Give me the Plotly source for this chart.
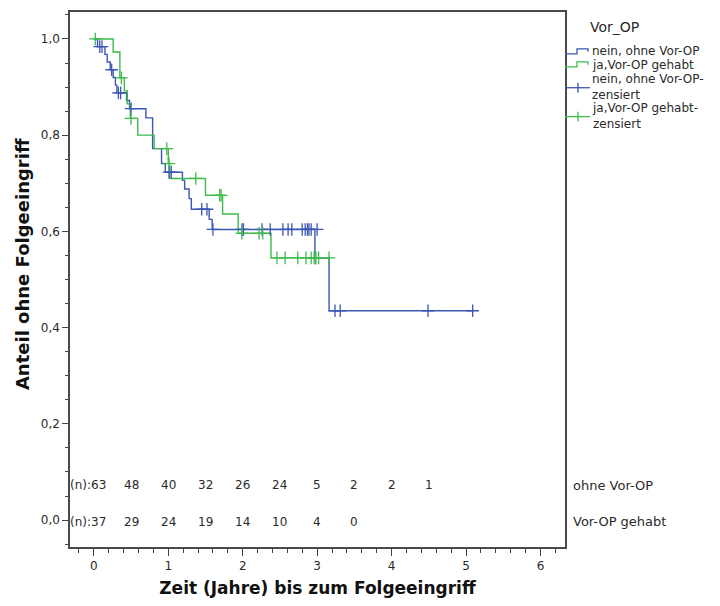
import plotly.graph_objects as go

# ---- data ----
# group 1: "nein, ohne Vor-OP" (blue)
blue_event_t = [0.05, 0.15, 0.18, 0.22, 0.26, 0.29, 0.31, 0.44, 0.48, 0.70, 0.79, 0.91, 0.96,
                1.19, 1.22, 1.28, 1.31, 1.55, 1.59, 2.97, 3.16]
blue_event_s = [0.984, 0.968, 0.952, 0.936, 0.920, 0.904, 0.888, 0.872, 0.855, 0.836, 0.772, 0.741, 0.723,
                0.706, 0.688, 0.668, 0.646, 0.625, 0.604, 0.545, 0.435]
blue_end_t = 5.09
blue_cens_t = [0.08, 0.11, 0.24, 0.33, 0.36, 0.50, 1.01, 1.04, 1.45, 1.52, 1.60, 1.99, 2.01,
               2.26, 2.37, 2.54, 2.61, 2.66, 2.80, 2.84, 2.87, 2.89, 2.92, 3.00, 2.98, 3.24, 3.31, 4.49, 5.09]
blue_cens_s = [0.984, 0.984, 0.936, 0.888, 0.888, 0.855, 0.723, 0.723, 0.646, 0.646, 0.604, 0.604, 0.604,
               0.604, 0.604, 0.604, 0.604, 0.604, 0.604, 0.604, 0.604, 0.604, 0.604, 0.604, 0.545, 0.435, 0.435, 0.435, 0.435]

# group 2: "ja,Vor-OP gehabt" (green)
green_event_t = [0.26, 0.35, 0.41, 0.45, 0.49, 0.59, 0.81, 1.00, 1.02, 1.50, 1.73, 1.94, 2.38]
green_event_s = [0.973, 0.919, 0.892, 0.865, 0.835, 0.800, 0.772, 0.741, 0.710, 0.675, 0.636, 0.596, 0.545]
green_end_t = 3.16
green_cens_t = [0.02, 0.37, 0.50, 0.98, 1.01, 1.37, 1.69, 1.71, 1.99, 2.22, 2.27,
                2.46, 2.57, 2.74, 2.85, 2.92, 2.96, 2.98, 3.02, 3.16]
green_cens_s = [1.0, 0.919, 0.835, 0.772, 0.741, 0.710, 0.675, 0.675, 0.596, 0.596, 0.596,
                0.545, 0.545, 0.545, 0.545, 0.545, 0.545, 0.545, 0.545, 0.545]

# numbers at risk
risk_times_1 = [0.0, 0.5, 1.0, 1.5, 2.0, 2.5, 3.0, 3.5, 4.0, 4.5]
risk_n_1 = [63, 48, 40, 32, 26, 24, 5, 2, 2, 1]
risk_times_2 = [0.0, 0.5, 1.0, 1.5, 2.0, 2.5, 3.0, 3.5]
risk_n_2 = [37, 29, 24, 19, 14, 10, 4, 0]
risk_labels = ["ohne Vor-OP", "Vor-OP gehabt"]

y_tickvals = [0.0, 0.2, 0.4, 0.6, 0.8, 1.0]
y_ticktext = ["0,0", "0,2", "0,4", "0,6", "0,8", "1,0"]
x_tickvals = [0, 1, 2, 3, 4, 5, 6]

legend_title = "Vor_OP"
legend_names = ["nein, ohne Vor-OP", "ja,Vor-OP gehabt",
                "nein, ohne Vor-OP-<br>zensiert", "ja,Vor-OP gehabt-<br>zensiert"]

BLUE = "#3b56b3"
GREEN = "#3dbb4c"
FONT = "DejaVu Sans"
TXT = "#2a2a2a"

fig = go.Figure()


def step_xy(ev_t, ev_s, end_t):
    xs = [0.0] + list(ev_t) + [end_t]
    ys = [1.0] + list(ev_s) + [ev_s[-1]]
    return xs, ys


for ev_t, ev_s, end_t, col in [(blue_event_t, blue_event_s, blue_end_t, BLUE),
                               (green_event_t, green_event_s, green_end_t, GREEN)]:
    xs, ys = step_xy(ev_t, ev_s, end_t)
    fig.add_trace(go.Scatter(x=xs, y=ys, mode="lines", line=dict(color=col, width=1.4, shape="hv"),
                             showlegend=False, hoverinfo="skip"))

for ct, cs, col in [(blue_cens_t, blue_cens_s, BLUE), (green_cens_t, green_cens_s, GREEN)]:
    fig.add_trace(go.Scatter(x=ct, y=cs, mode="markers",
                             marker=dict(symbol="cross-thin", size=9, line=dict(color=col, width=1.3)),
                             showlegend=False, hoverinfo="skip"))

# numbers at risk
RISK_FONT = dict(family=FONT, size=12, color=TXT)
for i, (t, n) in enumerate(zip(risk_times_1, risk_n_1)):
    if i == 0:
        fig.add_annotation(x=t + 0.19, y=0.072, xref="x", yref="y", text=f"(n):{n}", showarrow=False,
                           xanchor="right", font=RISK_FONT)
    else:
        fig.add_annotation(x=t, y=0.072, xref="x", yref="y", text=str(n), showarrow=False,
                           xanchor="center", font=RISK_FONT)
for i, (t, n) in enumerate(zip(risk_times_2, risk_n_2)):
    if i == 0:
        fig.add_annotation(x=t + 0.19, y=-0.004, xref="x", yref="y", text=f"(n):{n}", showarrow=False,
                           xanchor="right", font=RISK_FONT)
    else:
        fig.add_annotation(x=t, y=-0.004, xref="x", yref="y", text=str(n), showarrow=False,
                           xanchor="center", font=RISK_FONT)
for yv, lab in zip([0.072, -0.004], risk_labels):
    fig.add_annotation(x=1.012, y=yv, xref="paper", yref="y", text=lab, showarrow=False,
                       xanchor="left", font=dict(family=FONT, size=13, color=TXT))

# manual legend (pixel -> paper conversion)
L, R, T, B = 70, 565, 10, 547
def px(x):
    return (x - L) / (R - L)
def py(y):
    return (B - y) / (B - T)

fig.add_annotation(x=px(614), y=py(25), xref="paper", yref="paper", text=legend_title, showarrow=False,
                   xanchor="center", yanchor="middle", font=dict(family=FONT, size=14, color=TXT))
# step glyphs
for yb, col in [(52, BLUE), (65, GREEN)]:
    path = (f"M {px(565)},{py(yb)} L {px(577)},{py(yb)} L {px(577)},{py(yb-5)} "
            f"L {px(588)},{py(yb-5)} L {px(588)},{py(yb-2)}")
    fig.add_shape(type="path", path=path, xref="paper", yref="paper", line=dict(color=col, width=1.3))
# cross glyphs
for yc, col in [(86, BLUE), (115, GREEN)]:
    fig.add_shape(type="line", x0=px(565), x1=px(590), y0=py(yc), y1=py(yc), xref="paper", yref="paper",
                  line=dict(color=col, width=1.3))
    fig.add_shape(type="line", x0=px(578), x1=px(578), y0=py(yc - 5), y1=py(yc + 5), xref="paper", yref="paper",
                  line=dict(color=col, width=1.3))
for (yt, name) in [(49, legend_names[0]), (63, legend_names[1]), (85, legend_names[2]), (114, legend_names[3])]:
    fig.add_annotation(x=px(590), y=py(yt), xref="paper", yref="paper", text=name, showarrow=False,
                       xanchor="left", yanchor="middle", align="left",
                       font=dict(family=FONT, size=12, color=TXT))

# y-axis title as a rotated annotation (centred where the reference has it)
fig.add_annotation(x=px(22), y=py(263), xref="paper", yref="paper",
                   text="<b>Anteil ohne Folgeeingriff</b>", showarrow=False, textangle=-90,
                   xanchor="center", yanchor="middle", font=dict(family=FONT, size=18, color="#111"))

fig.update_layout(
    width=720, height=606,
    margin=dict(l=70, r=155, t=10, b=59),
    paper_bgcolor="white", plot_bgcolor="white",
    font=dict(family=FONT, size=11, color=TXT),
    showlegend=False,
)
fig.update_xaxes(
    range=[-0.32, 6.33], tickvals=x_tickvals, ticks="outside", ticklen=7, tickcolor="#444",
    showline=True, mirror=True, linecolor="#4a4a4a", linewidth=1.5, showgrid=False, zeroline=False,
    minor=dict(dtick=0.2, tick0=0, ticks="outside", ticklen=4, tickcolor="#444", showgrid=False),
    tickfont=dict(family=FONT, size=12, color=TXT),
    title=dict(text="<b>Zeit (Jahre) bis zum Folgeeingriff</b>", font=dict(family=FONT, size=17, color="#111"),
               standoff=10),
)
fig.update_yaxes(
    range=[-0.056, 1.056], tickvals=y_tickvals, ticktext=y_ticktext, ticks="outside", ticklen=6, tickcolor="#444",
    showline=True, mirror=True, linecolor="#4a4a4a", linewidth=1.5, showgrid=False, zeroline=False,
    minor=dict(dtick=0.05, tick0=0, ticks="outside", ticklen=3, tickcolor="#444", showgrid=False),
    tickfont=dict(family=FONT, size=12, color=TXT),
)

fig.write_html("out.html")
